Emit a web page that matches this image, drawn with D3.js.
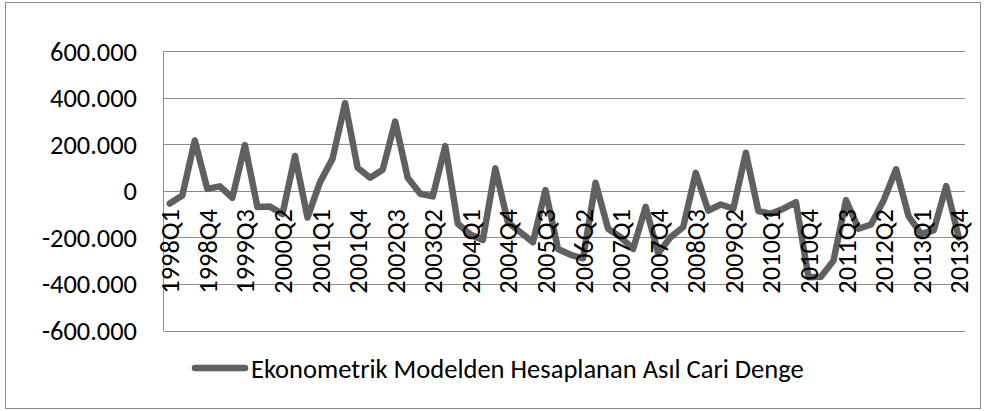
<!DOCTYPE html>
<html>
<head>
<meta charset="utf-8">
<script src="https://cdn.jsdelivr.net/npm/d3@7"></script>
<style>
  body { margin: 0; background: #fff; }
  text { font-family: Carlito, Lato, "Open Sans", sans-serif; fill: #000; }
</style>
</head>
<body>
<script>
var width = 985, height = 411;

// quarters 1998Q1 .. 2013Q4
var years = d3.range(1998, 2014);
var quarters = [];
years.forEach(function(y) { for (var q = 1; q <= 4; q++) quarters.push(y + "Q" + q); });

// values in thousands
var values = [
  -55, -20, 216, 8, 19, -30, 196, -70, -68, -100, 149, -115,
  37, 138, 376, 99, 56, 90, 297, 56, -13, -24, 192, -142,
  -188, -211, 96, -135, -178, -221, 3, -250, -275, -290, 34, -163,
  -199, -250, -69, -268, -199, -156, 77, -85, -59, -77, 163, -87,
  -99, -77, -49, -371, -369, -300, -40, -163, -145, -42, 92, -110,
  -185, -170, 20, -200
];

var yTicks = [-600, -400, -200, 0, 200, 400, 600];
var seriesName = "Ekonometrik Modelden Hesaplanan Asıl Cari Denge";

var margin = { left: 163.5, right: 20, top: 51, bottom: 80.5 };

var svg = d3.select("body").append("svg")
    .attr("width", width)
    .attr("height", height);

svg.append("rect")
    .attr("x", 5.5).attr("y", 2.5)
    .attr("width", 975).attr("height", 406)
    .attr("fill", "#fff")
    .attr("stroke", "#8c8c8c");

var x = d3.scaleBand()
    .domain(quarters)
    .range([margin.left, 965]);

var y = d3.scaleLinear()
    .domain([-600, 600])
    .range([330.5, 51]);

// turkish style grouping: 600.000
var trLocale = d3.formatLocale({ decimal: ",", thousands: ".", grouping: [3], currency: ["", ""], minus: "-" });
var fmt = trLocale.format(",d");

function fitSize(str, target) {
  var t = svg.append("text").attr("font-size", 20).text(str);
  var w = t.node().getComputedTextLength();
  t.remove();
  return 20 * target / w;
}
var axisSize = fitSize("600.000", 87);
var legendSize = fitSize(seriesName, 553);

// gridlines
svg.append("g")
  .selectAll("line")
  .data(yTicks)
  .join("line")
    .attr("x1", margin.left).attr("x2", 965)
    .attr("y1", function(d) { return Math.round(y(d)) + 0.5; })
    .attr("y2", function(d) { return Math.round(y(d)) + 0.5; })
    .attr("stroke", "#8c8c8c")
    .attr("stroke-width", 1);

svg.append("line")
    .attr("x1", margin.left).attr("x2", margin.left)
    .attr("y1", y(600)).attr("y2", y(-600))
    .attr("stroke", "#8c8c8c");

// y labels
svg.append("g")
  .selectAll("text")
  .data(yTicks)
  .join("text")
    .attr("x", 137)
    .attr("y", function(d) { return y(d); })
    .attr("dy", "0.36em")
    .attr("text-anchor", "end")
    .attr("font-size", axisSize)
    .text(function(d) { return fmt(d * 1000); });

// line
var line = d3.line()
    .x(function(d, i) { return x(quarters[i]) + x.bandwidth() / 2; })
    .y(function(d) { return y(d); });

svg.append("path")
    .datum(values)
    .attr("d", line)
    .attr("fill", "none")
    .attr("stroke", "#606060")
    .attr("stroke-width", 6.5)
    .attr("stroke-linejoin", "round")
    .attr("stroke-linecap", "round");

// x labels, every third quarter
svg.append("g")
  .selectAll("text")
  .data(quarters.filter(function(d, i) { return i % 3 === 0; }))
  .join("text")
    .attr("transform", function(d) {
      return "translate(" + (x(d) + x.bandwidth() / 2) + "," + 209 + ") rotate(-90)";
    })
    .attr("dy", "0.36em")
    .attr("text-anchor", "end")
    .attr("font-size", axisSize)
    .text(function(d) { return d; });

// legend
svg.append("line")
    .attr("x1", 195).attr("x2", 245)
    .attr("y1", 368).attr("y2", 368)
    .attr("stroke", "#606060")
    .attr("stroke-width", 6.5)
    .attr("stroke-linecap", "round");

svg.append("text")
    .attr("x", 251)
    .attr("y", 368)
    .attr("dy", "0.36em")
    .attr("font-size", legendSize)
    .text(seriesName);
</script>
</body>
</html>
